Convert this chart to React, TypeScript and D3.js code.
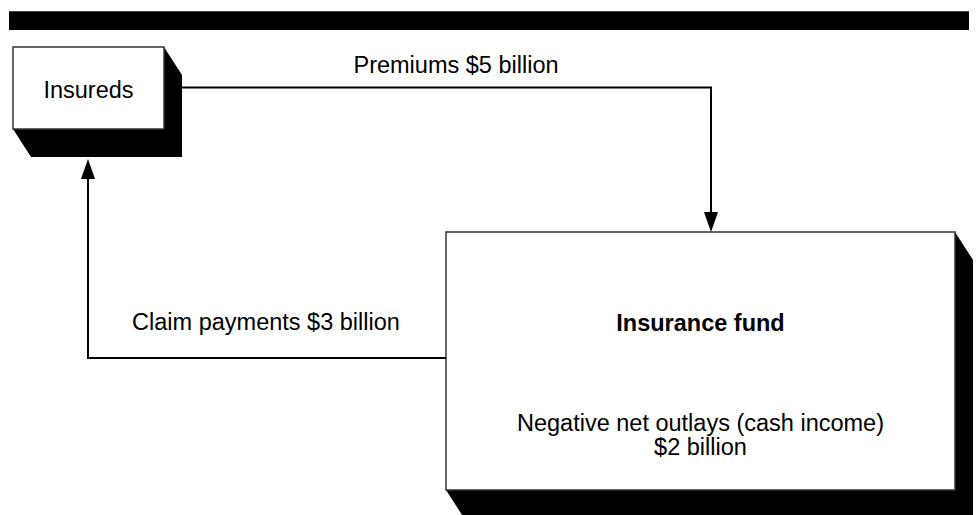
import React from "react";
import * as d3 from "d3";

const nodeNames = ["Insureds", "Insurance fund"];
const flowLabels = ["Premiums $5 billion", "Claim payments $3 billion"];
const flowAmounts = [5, 3];
const netLabel = ["Negative net outlays (cash income)", "$2 billion"];

const W = 979;
const H = 515;
const FONT = "'Liberation Sans', Arial, Helvetica, sans-serif";
const FS = 23.5;

type Box = { x: number; y: number; w: number; h: number };
const boxes: Box[] = [
  { x: 13, y: 47, w: 151, h: 82 },
  { x: 446, y: 232, w: 509, h: 258 },
];
const SDX = 18;
const SDY = 28;

function shadowPath(b: Box) {
  const p = d3.path();
  p.moveTo(b.x + b.w, b.y);
  p.lineTo(b.x + b.w + SDX, b.y + SDY);
  p.lineTo(b.x + b.w + SDX, b.y + b.h + SDY);
  p.lineTo(b.x + SDX, b.y + b.h + SDY);
  p.lineTo(b.x, b.y + b.h);
  p.closePath();
  return p.toString();
}

export default function App() {
  const [ins, fund] = boxes;
  const line = d3.line<[number, number]>();
  const premX = 711;
  const premY = ins.y + ins.h / 2 - 0.5;
  const premPts: [number, number][] = [
    [ins.x + ins.w + SDX, premY],
    [premX, premY],
    [premX, fund.y - 18],
  ];
  const claimY = 358;
  const claimX = 88;
  const claimPts: [number, number][] = [
    [fund.x, claimY],
    [claimX, claimY],
    [claimX, ins.y + ins.h + SDY + 20],
  ];
  const arrowDown = (x: number, y: number) =>
    line([
      [x - 7, y - 20],
      [x + 7, y - 20],
      [x, y],
    ]) + "Z";
  const arrowUp = (x: number, y: number) =>
    line([
      [x - 7, y + 20],
      [x + 7, y + 20],
      [x, y],
    ]) + "Z";

  return (
    <svg
      width={W}
      height={H}
      style={{ position: "absolute", left: 0, top: 0, background: "#fff" }}
      fontFamily={FONT}
    >
      <rect x={9} y={11} width={960} height={19} fill="#000" />
      <line x1={9} x2={969} y1={11.5} y2={11.5} stroke="#444" strokeWidth={1} />

      {boxes.map((b, i) => (
        <g key={i}>
          <path d={shadowPath(b)} fill="#000" />
          <rect
            x={b.x}
            y={b.y}
            width={b.w}
            height={b.h}
            fill="#fff"
            stroke="#333"
            strokeWidth={1.5}
          />
        </g>
      ))}

      <path d={line(premPts)!} fill="none" stroke="#000" strokeWidth={2} />
      <path d={arrowDown(premX, fund.y)} fill="#000" />
      <path d={line(claimPts)!} fill="none" stroke="#000" strokeWidth={2} />
      <path d={arrowUp(claimX, ins.y + ins.h + SDY + 2)} fill="#000" />

      <text x={ins.x + ins.w / 2} y={98} textAnchor="middle" fontSize={FS}>
        {nodeNames[0]}
      </text>
      <text x={456} y={73} textAnchor="middle" fontSize={FS} data-amount={flowAmounts[0]}>
        {flowLabels[0]}
      </text>
      <text x={266} y={330} textAnchor="middle" fontSize={FS} data-amount={flowAmounts[1]}>
        {flowLabels[1]}
      </text>
      <text
        x={fund.x + fund.w / 2}
        y={331}
        textAnchor="middle"
        fontSize={FS}
        fontWeight="bold"
      >
        {nodeNames[1]}
      </text>
      <text x={fund.x + fund.w / 2} y={431} textAnchor="middle" fontSize={FS}>
        {netLabel[0]}
      </text>
      <text x={fund.x + fund.w / 2} y={455} textAnchor="middle" fontSize={FS}>
        {netLabel[1]}
      </text>
    </svg>
  );
}
